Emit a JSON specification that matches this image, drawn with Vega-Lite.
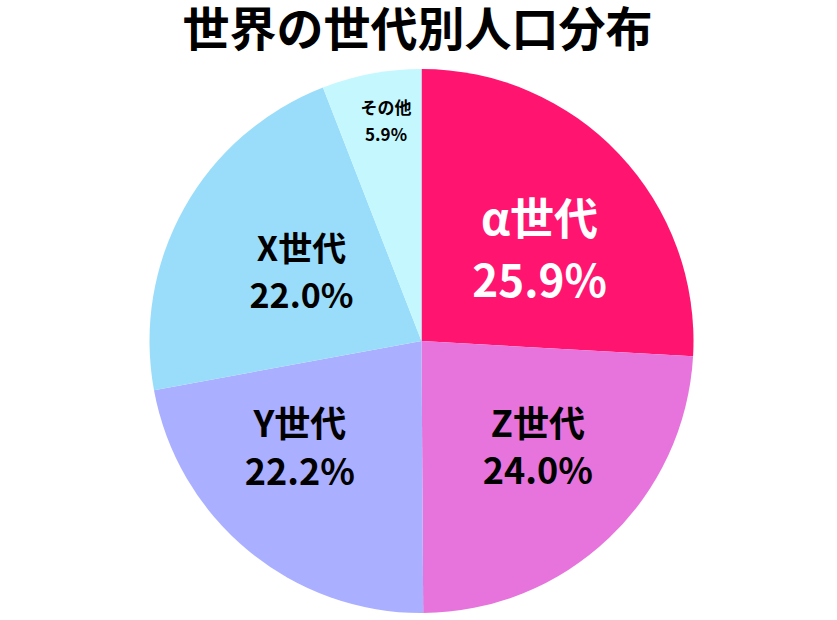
{
  "$schema": "https://vega.github.io/schema/vega-lite/v6.json",
  "width": 837,
  "height": 620,
  "autosize": {"type": "fit", "contains": "padding"},
  "padding": {"left": 6, "right": 0, "top": 8, "bottom": 0},
  "background": "white",
  "view": {"stroke": null},
  "title": {
    "text": "世界の世代別人口分布",
    "font": "Noto Sans CJK JP",
    "fontSize": 47,
    "fontWeight": "bold",
    "color": "#000000",
    "anchor": "middle",
    "dx": -4,
    "offset": 6
  },
  "data": {
    "values": [
      {"gen": "α世代", "pct": 25.9, "idx": 1},
      {"gen": "Z世代", "pct": 24.0, "idx": 2},
      {"gen": "Y世代", "pct": 22.2, "idx": 3},
      {"gen": "X世代", "pct": 22.0, "idx": 4},
      {"gen": "その他", "pct": 5.9, "idx": 5}
    ]
  },
  "transform": [
    {"calculate": "datum.gen + '\\n' + format(datum.pct, '.1f') + '%'", "as": "label"}
  ],
  "encoding": {
    "theta": {"field": "pct", "type": "quantitative", "stack": true},
    "order": {"field": "idx", "type": "quantitative"}
  },
  "layer": [
    {
      "mark": {"type": "arc", "outerRadius": 272},
      "encoding": {
        "color": {
          "field": "gen",
          "type": "nominal",
          "scale": {
            "domain": ["α世代", "Z世代", "Y世代", "X世代", "その他"],
            "range": ["#FF1470", "#E674DC", "#AAAFFF", "#99DDFA", "#C5F7FF"]
          },
          "legend": null
        }
      }
    },
    {
      "mark": {"type": "text", "radius": 150, "font": "Noto Sans CJK JP", "fontWeight": "bold",
               "fontSize": 44, "lineBreak": "\n", "lineHeight": 62, "fill": "#ffffff", "dx": 9, "dy": -16},
      "encoding": {
        "text": {"condition": {"test": "datum.idx != 1", "value": ""}, "field": "label", "type": "nominal"}
      }
    },
    {
      "mark": {"type": "text", "radius": 150, "font": "Noto Sans CJK JP", "fontWeight": "bold",
               "fontSize": 36, "lineBreak": "\n", "lineHeight": 47, "fill": "#000000", "dx": 13, "dy": -24},
      "encoding": {
        "text": {"condition": {"test": "datum.idx != 2", "value": ""}, "field": "label", "type": "nominal"}
      }
    },
    {
      "mark": {"type": "text", "radius": 150, "font": "Noto Sans CJK JP", "fontWeight": "bold",
               "fontSize": 36, "lineBreak": "\n", "lineHeight": 48, "fill": "#000000", "dx": -26, "dy": -31},
      "encoding": {
        "text": {"condition": {"test": "datum.idx != 3", "value": ""}, "field": "label", "type": "nominal"}
      }
    },
    {
      "mark": {"type": "text", "radius": 150, "font": "Noto Sans CJK JP", "fontWeight": "bold",
               "fontSize": 34, "lineBreak": "\n", "lineHeight": 47, "fill": "#000000", "dx": 11, "dy": -17},
      "encoding": {
        "text": {"condition": {"test": "datum.idx != 4", "value": ""}, "field": "label", "type": "nominal"}
      }
    },
    {
      "mark": {"type": "text", "radius": 225, "font": "Noto Sans CJK JP", "fontWeight": "bold",
               "fontSize": 17, "lineBreak": "\n", "lineHeight": 27, "fill": "#000000", "dx": 6, "dy": -11},
      "encoding": {
        "text": {"condition": {"test": "datum.idx != 5", "value": ""}, "field": "label", "type": "nominal"}
      }
    }
  ]
}
